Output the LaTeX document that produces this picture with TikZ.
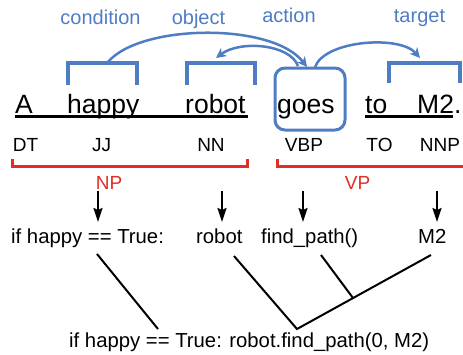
\documentclass[tikz,border=0pt]{standalone}
\usepackage{fontspec}
\setmainfont{Liberation Sans}
\usetikzlibrary{arrows.meta}
\definecolor{roleblue}{RGB}{79,125,196}
\definecolor{phrasered}{RGB}{226,45,38}

\begin{document}
\begin{tikzpicture}[x=1pt,y=-1pt,
  word/.style={anchor=base west,inner sep=0pt,font=\fontsize{26.5}{30}\selectfont},
  tag/.style={anchor=base,inner sep=0pt,font=\fontsize{19}{22}\selectfont},
  role/.style={anchor=base,inner sep=0pt,text=roleblue,font=\fontsize{20}{24}\selectfont},
  phrase/.style={anchor=base,inner sep=0pt,text=phrasered,font=\fontsize{19}{22}\selectfont},
  code/.style={anchor=base west,inner sep=0pt,font=\fontsize{20.3}{24}\selectfont},
  uline/.style={line width=3pt},
  rolebracket/.style={draw=roleblue,line width=3.5pt},
  rolearc/.style={draw=roleblue,line width=2.5pt,-{Stealth[length=10pt,width=10pt,inset=3pt]}},
  phrasebracket/.style={draw=phrasered,line width=3pt},
  maparrow/.style={line width=2pt,-{Stealth[length=14pt,width=9pt,inset=2pt]}},
  tree/.style={line width=2pt}]
\useasboundingbox (0,0) rectangle (463,354);

% sentence
\node[word] (wA) at (15,113) {A};
\node[word] (whappy) at (67,113) {happy};
\node[word] (wrobot) at (185,113) {robot};
\node[word] (wgoes) at (277,113) {goes};
\node[word] (wto) at (365,113) {to};
\node[word] (wM) at (417,113) {M2.};
\draw[uline] (15,116) -- (248,116);
\draw[uline] (365,116) -- (453,116);

% action box
\draw[roleblue,line width=3pt,rounded corners=10pt] (275,68) rectangle (345,130);

% part-of-speech tags
\node[tag] (tDT) at (25.5,151) {DT};
\node[tag] (tJJ) at (101.5,151) {JJ};
\node[tag] (tNN) at (211,151) {NN};
\node[tag] (tVBP) at (304,151) {VBP};
\node[tag] (tTO) at (379.5,151) {TO};
\node[tag] (tNNP) at (440,151) {NNP};

% phrase brackets
\draw[phrasebracket] (12,159) |- (247,166) -- (247,159);
\draw[phrasebracket] (277,159) |- (466,166);
\node[phrase] (np) at (109,189) {NP};
\node[phrase] (vp) at (357.5,189) {VP};

% semantic roles
\node[role] (rcond) at (100.5,24) {condition};
\node[role] (robj) at (198.5,24) {object};
\node[role] (ract) at (289,22) {action};
\node[role] (rtgt) at (419.5,22) {target};
\draw[rolebracket] (68,85) |- (137,63) -- (137,85);
\draw[rolebracket] (187,85) |- (255,63) -- (255,85);
\draw[rolebracket] (389,83) |- (460,63) -- (460,83);

\coordinate (condfoot) at (108,62);
\coordinate (goesin) at (307,67);
\coordinate (goesout) at (298,66);
\coordinate (robotin) at (216,58);
\coordinate (goesright) at (315,67);
\coordinate (targetin) at (420,58);
\draw[rolearc] (condfoot) .. controls (140,24) and (272,22) .. (goesin);
\draw[rolearc] (goesout) .. controls (290,44) and (240,40) .. (robotin);
\draw[rolearc] (goesright) .. controls (325,40) and (400,35) .. (targetin);

% code pieces
\node[code] (cif) at (11,243) {if happy == True:};
\node[code] (crobot) at (196,243) {robot};
\node[code] (cfind) at (261,243) {find\_path()};
\node[code] (cM) at (418,243) {M2};
\node[code] (cfull) at (69,347) {if happy == True: robot.find\_path(0, M2)};

\coordinate (a1s) at (98,191);  \coordinate (a1e) at (98,222);
\coordinate (a2s) at (222,191); \coordinate (a2e) at (222,222);
\coordinate (a3s) at (303,191); \coordinate (a3e) at (303,222);
\coordinate (a4s) at (437,191); \coordinate (a4e) at (437,222);
\draw[maparrow] (a1s) -- (a1e);
\draw[maparrow] (a2s) -- (a2e);
\draw[maparrow] (a3s) -- (a3e);
\draw[maparrow] (a4s) -- (a4e);

% composition tree
\coordinate (tif) at (97,254);
\coordinate (troot) at (158,329);
\coordinate (trobot) at (234,256);
\coordinate (tcall) at (297,329);
\coordinate (tM) at (431,255);
\coordinate (tfind) at (321,255);
\coordinate (tjoin) at (353,298);
\draw[tree] (tif) -- (troot);
\draw[tree] (trobot) -- (tcall) -- (tM);
\draw[tree] (tfind) -- (tjoin);
\end{tikzpicture}
\end{document}
